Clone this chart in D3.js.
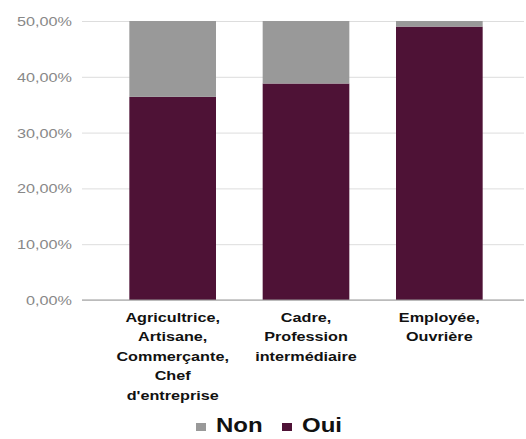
<!DOCTYPE html>
<html>
<head>
<meta charset="utf-8">
<script src="https://cdn.jsdelivr.net/npm/d3@7"></script>
<style>
  html, body { margin: 0; padding: 0; background: #fff; overflow: hidden; }
  text { font-family: "Liberation Sans", Arial, sans-serif; }
</style>
</head>
<body>
<div id="chart"></div>
<script>
// categories (each label split into lines as in the picture)
const categories = [
    ["Agricultrice,", "Artisane,", "Commerçante,", "Chef", "d'entreprise"],
    ["Cadre,", "Profession", "intermédiaire"],
    ["Employée,", "Ouvrière"]
];
const ouiValues = [36.4, 38.8, 49.0];
const nonValues = [63.6, 61.2, 51.0];
const yTicks = [0, 10, 20, 30, 40, 50];
const seriesNames = ["Non", "Oui"];

const width = 526, height = 439;
const colors = { Non: "#999999", Oui: "#4e1236" };
const stretch = 1.2; // the text in the original is drawn a bit wide

const svg = d3.select("#chart").append("svg")
    .attr("width", width)
    .attr("height", height);

const x = d3.scaleBand()
    .domain(d3.range(categories.length))
    .range([106, 506])
    .paddingInner(0.35)
    .paddingOuter(0.175);

const y = d3.scaleLinear()
    .domain([0, 50])
    .range([300, 21]);

// clip so stacked bars stop at the axis max
svg.append("clipPath")
    .attr("id", "plot-clip")
    .append("rect")
    .attr("x", 82).attr("y", y(50))
    .attr("width", 442).attr("height", y(0) - y(50));

// grid lines
svg.append("g")
    .attr("transform", "translate(82,0)")
    .call(d3.axisLeft(y).tickValues(yTicks).tickSize(-442).tickFormat(""))
    .call(g => g.select(".domain").remove())
    .selectAll("line")
    .style("stroke", "#dddddd");

// y tick labels
svg.append("g")
    .selectAll("text")
    .data(yTicks)
    .enter()
    .append("text")
    .attr("transform", d => `translate(72,${y(d) + 5}) scale(${stretch},1)`)
    .attr("text-anchor", "end")
    .style("font-size", "13.5px")
    .style("fill", "#888888")
    .text(d => d.toFixed(2).replace(".", ",") + "%");

// stacked bars
const stackData = categories.map((c, i) => ({ i: i, Oui: ouiValues[i], Non: nonValues[i] }));
const series = d3.stack().keys(["Oui", "Non"])(stackData);

svg.append("g")
    .attr("clip-path", "url(#plot-clip)")
    .selectAll("g")
    .data(series)
    .enter()
    .append("g")
    .attr("fill", d => colors[d.key])
    .selectAll("rect")
    .data(d => d)
    .enter()
    .append("rect")
    .attr("x", d => x(d.data.i))
    .attr("y", d => y(d[1]))
    .attr("width", x.bandwidth())
    .attr("height", d => y(d[0]) - y(d[1]));

// baseline
svg.append("line")
    .attr("x1", 82).attr("x2", 524)
    .attr("y1", y(0)).attr("y2", y(0))
    .style("stroke", "#999999")
    .style("stroke-width", 1);

// category labels
const catLabels = svg.append("g")
    .selectAll("text")
    .data(categories)
    .enter()
    .append("text")
    .attr("transform", (d, i) => `translate(${x(i) + x.bandwidth() / 2},0) scale(${stretch},1)`)
    .attr("text-anchor", "middle")
    .style("font-size", "13.5px")
    .style("font-weight", "bold")
    .style("fill", "#111111");

catLabels.selectAll("tspan")
    .data(d => d)
    .enter()
    .append("tspan")
    .attr("x", 0)
    .attr("y", (d, j) => 322 + j * 19.5)
    .text(d => d);

// legend (kept just inside the bottom edge)
const legend = svg.append("g");
const legendX = [196, 282];
seriesNames.forEach((s, i) => {
    legend.append("rect")
        .attr("x", legendX[i])
        .attr("y", 423)
        .attr("width", 10)
        .attr("height", 8)
        .attr("fill", colors[s]);
    legend.append("text")
        .attr("transform", `translate(${legendX[i] + 20},432) scale(${stretch},1)`)
        .style("font-size", "20px")
        .style("font-weight", "bold")
        .style("fill", "#111111")
        .text(s);
});
</script>
</body>
</html>
